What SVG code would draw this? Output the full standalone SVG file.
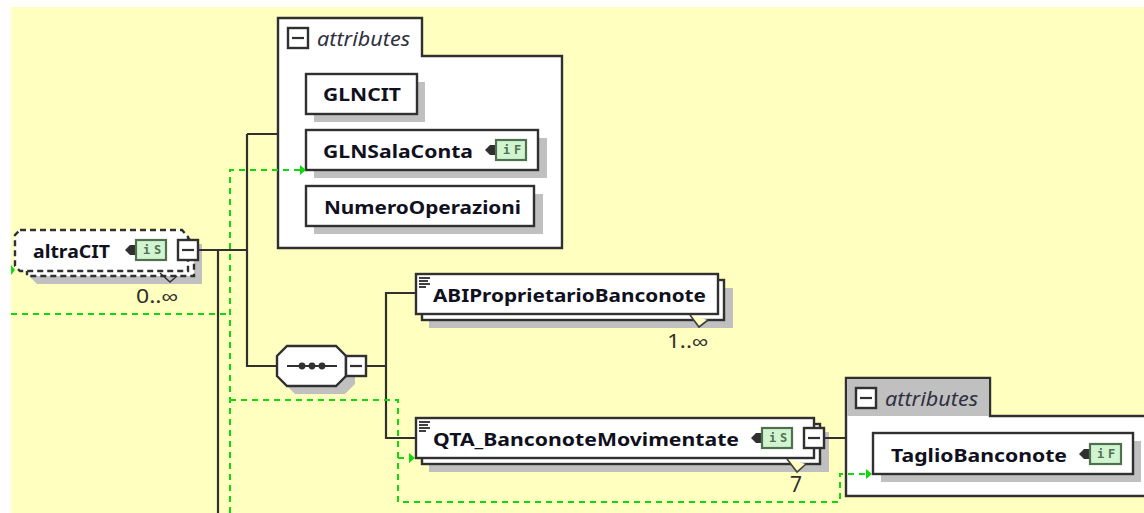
<svg xmlns="http://www.w3.org/2000/svg" width="1144" height="513" viewBox="0 0 1144 513">
<style>
.l{fill:none;stroke:#303030;stroke-width:2.2}
.g{fill:none;stroke:#10d810;stroke-width:2;stroke-dasharray:6 5}
.b{fill:#fff;stroke:#303030;stroke-width:2.4}
.s{fill:#c0c0c0}
.d{fill:#fff;stroke:#303030;stroke-width:2.4;stroke-dasharray:6 4}
.t{font-family:"Noto Sans","Liberation Sans",sans-serif;font-weight:700;font-size:18.5px;fill:#101020}
.a{font-family:"Noto Sans","Liberation Sans",sans-serif;font-style:italic;font-size:19px;fill:#303040}
.m{font-family:"Noto Sans","Liberation Sans",sans-serif;font-size:19px;fill:#303030}
.i{fill:#d0f5d0;stroke:#507050;stroke-width:2.2}
.it{font-family:"DejaVu Sans Mono","Liberation Mono",monospace;font-weight:700;font-size:12px;fill:#507050}
.ar{fill:#303030}
.ga{fill:#10d810}
.tg{fill:#fff;stroke:#303030;stroke-width:2.4}
.tm{fill:none;stroke:#303030;stroke-width:2.2}
</style>
<defs>
<g id="icon-arrow"><path class="ar" d="M-11 0l5-5h6v10h-6z"/></g>
<g id="lines"><path d="M0 1h11M0 4h9M0 7h11M0 10h7" stroke="#404040" stroke-width="1.8" fill="none"/></g>
<g id="toggle"><rect class="tg" x="0" y="0" width="20" height="20"/><path class="tm" d="M4 10h12"/></g>
</defs>
<rect width="1144" height="513" fill="#fff"/>
<rect x="11" y="7" width="1133" height="506" fill="#ffffc0"/>
<g id="node-altraCIT">
<path class="s" d="M29 244H202V284H37L29 276z"/>
<path class="d" d="M27 236H186L194 244V276H27z"/>
<path class="d" d="M20 230H182L188 237V271H20L15 266V235z"/>
<text class="t" x="33" y="258" textLength="77" lengthAdjust="spacingAndGlyphs">altraCIT</text>
<use href="#icon-arrow" x="136" y="250"/>
<rect class="i" x="136" y="240" width="30" height="20"/>
<text class="it" x="143" y="254">i</text><text class="it" x="154" y="254">S</text>
<use href="#toggle" x="178" y="240"/>
<path d="M160 273l10 9 7-6" fill="none" stroke="#303030" stroke-width="1.5"/>
<text class="m" x="136" y="303" textLength="42" lengthAdjust="spacingAndGlyphs">0..∞</text>
</g>
<g id="attributes-1">
<path class="b" d="M278 18H422V56H562V248H278z"/>
<use href="#toggle" x="288" y="28"/>
<text class="a" x="317" y="46" textLength="93" lengthAdjust="spacingAndGlyphs">attributes</text>
</g>
<g id="attr-GLNCIT">
<rect class="s" x="314" y="82" width="111" height="40"/>
<rect class="b" x="306" y="74" width="111" height="40"/>
<text class="t" x="323" y="101" textLength="78" lengthAdjust="spacingAndGlyphs">GLNCIT</text>
</g>
<g id="attr-GLNSalaConta">
<rect class="s" x="314" y="138" width="233" height="40"/>
<rect class="b" x="306" y="130" width="232" height="40"/>
<text class="t" x="323" y="158" textLength="150" lengthAdjust="spacingAndGlyphs">GLNSalaConta</text>
<use href="#icon-arrow" x="496" y="150"/>
<rect class="i" x="496" y="140" width="30" height="20"/>
<text class="it" x="503" y="154">i</text><text class="it" x="514" y="154">F</text>
</g>
<g id="attr-NumeroOperazioni">
<rect class="s" x="314" y="194" width="229" height="40"/>
<rect class="b" x="306" y="186" width="228" height="40"/>
<text class="t" x="324" y="214" textLength="197" lengthAdjust="spacingAndGlyphs">NumeroOperazioni</text>
</g>
<g id="sequence">
<path class="s" d="M295 354H345L355 364V384L345 394H295L285 384V364z"/>
<path class="b" d="M287 346H336L346 356V376L336 386H287L277 376V356z"/>
<path class="l" d="M287 366H337"/>
<circle class="ar" cx="302" cy="366" r="3.4"/><circle class="ar" cx="312" cy="366" r="3.4"/><circle class="ar" cx="322" cy="366" r="3.4"/>
<use href="#toggle" x="346" y="356"/>
</g>
<g id="node-ABI">
<rect class="s" x="429" y="288" width="304" height="40"/>
<rect class="b" x="422" y="280" width="302" height="40"/>
<path d="M690 315l9 12 9-7" fill="#ffffc0" stroke="#404040" stroke-width="1.6"/>
<rect class="b" x="416" y="274" width="302" height="40"/>
<use href="#lines" x="419" y="277"/>
<text class="t" x="433" y="302" textLength="273" lengthAdjust="spacingAndGlyphs">ABIProprietarioBanconote</text>
<text class="m" x="667" y="348" textLength="41" lengthAdjust="spacingAndGlyphs">1..∞</text>
</g>
<g id="node-QTA">
<rect class="s" x="429" y="432" width="400" height="40"/>
<rect class="b" x="422" y="424" width="398" height="40"/>
<path d="M787 459l10 13 9-8" fill="#ffffc0" stroke="#404040" stroke-width="1.6"/>
<rect class="b" x="416" y="418" width="398" height="40"/>
<use href="#lines" x="419" y="421"/>
<text class="t" x="433" y="446" textLength="306" lengthAdjust="spacingAndGlyphs">QTA_BanconoteMovimentate</text>
<use href="#icon-arrow" x="762" y="438"/>
<rect class="i" x="762" y="428" width="30" height="20"/>
<text class="it" x="769" y="442">i</text><text class="it" x="780" y="442">S</text>
<use href="#toggle" x="804" y="428"/>
<text class="m" x="790" y="492" font-size="21" style="font-size:21px">7</text>
</g>
<g id="attributes-2">
<path class="b" d="M846 378H990V416H1148V496H846z"/>
<path class="s" d="M847 379H989V416H847z"/>
<use href="#toggle" x="856" y="388"/>
<text class="a" x="885" y="406" textLength="93" lengthAdjust="spacingAndGlyphs">attributes</text>
</g>
<g id="attr-TaglioBanconote">
<rect class="s" x="881" y="441" width="260" height="41"/>
<rect class="b" x="873" y="433" width="260" height="41"/>
<text class="t" x="891" y="462" textLength="176" lengthAdjust="spacingAndGlyphs">TaglioBanconote</text>
<use href="#icon-arrow" x="1090" y="454"/>
<rect class="i" x="1090" y="444" width="31" height="20"/>
<text class="it" x="1097" y="458">i</text><text class="it" x="1108" y="458">F</text>
</g>
<g id="connectors">
<path class="l" d="M199 250H247V366H277M247 134V250M247 134H278M218 250V513M366 366H386M416 293H386V438H416M824 438H846"/>
<path class="g" d="M11 314H230M230 513V170H300M230 400H398V502H840V474H866M398 458H408"/>
<path class="ga" d="M300 165l6 5-6 5zM409 453l6 5-6 5zM866 469l6 5-6 5zM11 265l4 5-4 5z"/>
</g>
</svg>
